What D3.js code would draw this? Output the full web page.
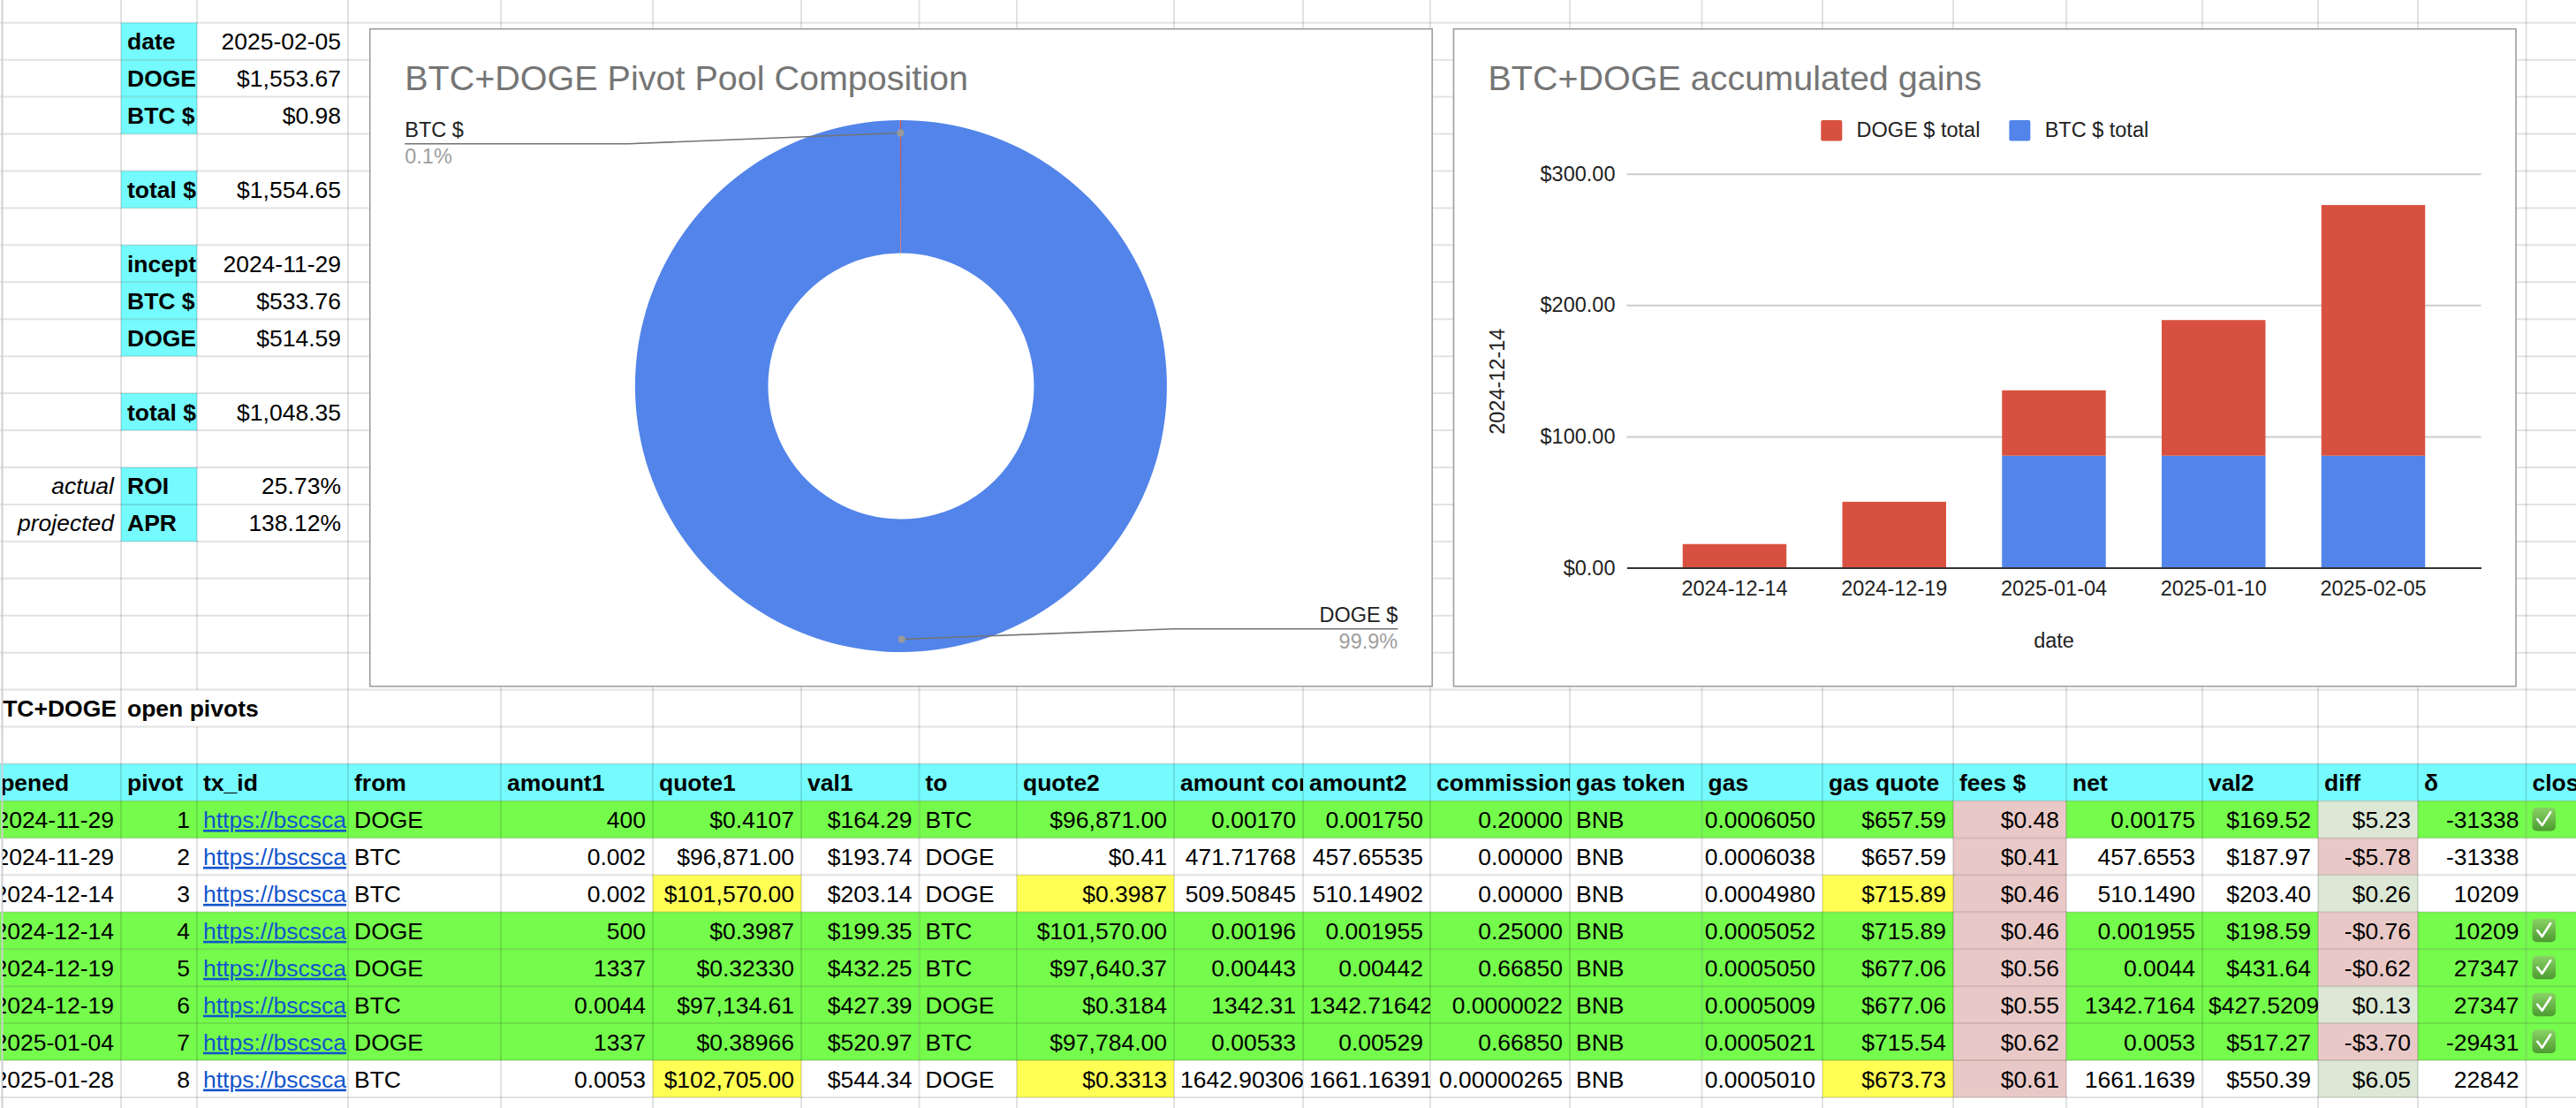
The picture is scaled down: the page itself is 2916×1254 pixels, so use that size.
<!DOCTYPE html>
<html><head><meta charset="utf-8">
<script src="https://cdn.jsdelivr.net/npm/d3@7"></script>
<style>html,body{margin:0;padding:0;background:#fff;overflow:hidden}</style>
</head><body><svg id="c" width="2916" height="1254" xmlns="http://www.w3.org/2000/svg"></svg>
<script>
// ---------------- DATA ----------------
const summaryNotes  = ["","","","","","","","","","","","","actual","projected"];
const summaryLabels = ["date","DOGE","BTC $","","total $","","incept","BTC $","DOGE","","total $","","ROI","APR"];
const summaryValues = ["2025-02-05","$1,553.67","$0.98","","$1,554.65","","2024-11-29","$533.76","$514.59","","$1,048.35","","25.73%","138.12%"];

const poolTitle  = "BTC+DOGE Pivot Pool Composition";
const poolLabels = ["DOGE $","BTC $"];
const poolValues = [1553.67, 0.98];

const gainsTitle  = "BTC+DOGE accumulated gains";
const gainDates   = ["2024-12-14","2024-12-19","2025-01-04","2025-01-10","2025-02-05"];
const dogeTotals  = [18.0, 50.2, 49.8, 103.3, 190.9];
const btcTotals   = [0, 0, 85.3, 85.3, 85.3];
const gainTicks   = [0, 100, 200, 300];
const seriesNames = ["DOGE $ total", "BTC $ total"];
const gainsYTitle = "2024-12-14";
const gainsXTitle = "date";

const tableTitle = ["BTC+DOGE", "open pivots"];
const headers = ["opened","pivot","tx_id","from","amount1","quote1","val1","to","quote2","amount converted","amount2","commission","gas token","gas","gas quote","fees $","net","val2","diff","δ","closed"];
const openedDates = ["2024-11-29","2024-11-29","2024-12-14","2024-12-14","2024-12-19","2024-12-19","2025-01-04","2025-01-28"];
const pivots      = ["1","2","3","4","5","6","7","8"];
const txIds       = Array(8).fill("https://bscsca");
const fromTokens  = ["DOGE","BTC","BTC","DOGE","DOGE","BTC","DOGE","BTC"];
const amount1     = ["400","0.002","0.002","500","1337","0.0044","1337","0.0053"];
const quote1      = ["$0.4107","$96,871.00","$101,570.00","$0.3987","$0.32330","$97,134.61","$0.38966","$102,705.00"];
const val1        = ["$164.29","$193.74","$203.14","$199.35","$432.25","$427.39","$520.97","$544.34"];
const toTokens    = ["BTC","DOGE","DOGE","BTC","BTC","DOGE","BTC","DOGE"];
const quote2      = ["$96,871.00","$0.41","$0.3987","$101,570.00","$97,640.37","$0.3184","$97,784.00","$0.3313"];
const amountConv  = ["0.00170","471.71768","509.50845","0.00196","0.00443","1342.31","0.00533","1642.90306"];
const amount2     = ["0.001750","457.65535","510.14902","0.001955","0.00442","1342.71642","0.00529","1661.16391"];
const commission  = ["0.20000","0.00000","0.00000","0.25000","0.66850","0.0000022","0.66850","0.00000265"];
const gasToken    = Array(8).fill("BNB");
const gasAmounts  = ["0.0006050","0.0006038","0.0004980","0.0005052","0.0005050","0.0005009","0.0005021","0.0005010"];
const gasQuote    = ["$657.59","$657.59","$715.89","$715.89","$677.06","$677.06","$715.54","$673.73"];
const fees        = ["$0.48","$0.41","$0.46","$0.46","$0.56","$0.55","$0.62","$0.61"];
const net         = ["0.00175","457.6553","510.1490","0.001955","0.0044","1342.7164","0.0053","1661.1639"];
const val2        = ["$169.52","$187.97","$203.40","$198.59","$431.64","$427.52094","$517.27","$550.39"];
const diffs       = ["$5.23","-$5.78","$0.26","-$0.76","-$0.62","$0.13","-$3.70","$6.05"];
const deltas      = ["-31338","-31338","10209","10209","27347","27347","-29431","22842"];
const closed      = [true,false,false,true,true,true,true,false];
const refreshedQuotes = [false,false,true,false,false,false,false,true];

// ---------------- LAYOUT / STYLE ----------------
const W = 2916, H = 1254;
const FONT = "'Liberation Sans', Arial, Helvetica, sans-serif";
const CELL_FS = 26.5;
const rowH = 41.94, row0 = 25.7;
const rowTop = k => row0 + rowH * k;
const colEdges = [-23,137,223,394,567,739,907,1040.5,1151,1329,1475,1619,1777,1926.5,2063,2211,2339,2493,2624,2737,2859.5,3060];
const CYAN = "#75fbfd", GREEN = "#75fb4c", YELLOW = "#fffe54", PINK = "#e9c9c7", LGREEN = "#dce8d5";
const GRID = "rgba(0,0,0,0.115)";
const BLUE = "#5284ea", RED = "#d85140";

const svg = d3.select("#c");
const defs = svg.append("defs");
defs.append("clipPath").attr("id","leftclip").append("rect").attr("x",3).attr("y",0).attr("width",W).attr("height",H);
const grad = defs.append("linearGradient").attr("id","chk").attr("x1",0).attr("y1",0).attr("x2",0).attr("y2",1);
grad.append("stop").attr("offset","0%").attr("stop-color","#8ad266");
grad.append("stop").attr("offset","100%").attr("stop-color","#4c9b30");

svg.append("rect").attr("width",W).attr("height",H).attr("fill","#fff");
const fillG = svg.append("g");
const gridG = svg.append("g");
const textG = svg.append("g").attr("clip-path","url(#leftclip)");

function fillCell(c0, c1, k, color) {
  if (!color) return;
  fillG.append("rect").attr("x", colEdges[c0]).attr("y", rowTop(k))
    .attr("width", colEdges[c1] - colEdges[c0]).attr("height", rowH).attr("fill", color);
}
function putText(c0, c1, k, str, o = {}) {
  if (str === "" || str == null) return;
  const x0 = colEdges[c0], x1 = colEdges[c1], w = x1 - x0;
  const cell = textG.append("svg").attr("x", x0).attr("y", rowTop(k))
    .attr("width", w).attr("height", rowH).attr("overflow", "hidden");
  const t = cell.append("text").attr("y", 30.5)
    .attr("font-family", FONT).attr("font-size", CELL_FS)
    .attr("font-weight", o.bold ? "bold" : "normal")
    .attr("font-style", o.italic ? "italic" : "normal")
    .attr("fill", o.color || "#000")
    .text(str);
  if (o.underline) t.attr("text-decoration", "underline");
  if (o.align === "right") {
    const tw = t.node().getComputedTextLength();
    if (tw + 10 > w) t.attr("x", 7);
    else t.attr("x", w - 8).attr("text-anchor", "end");
  } else {
    t.attr("x", 7);
  }
}

// ---- summary block ----
summaryLabels.forEach((lab, k) => {
  if (lab) fillCell(1, 2, k, CYAN);
});
summaryNotes.forEach((s, k) => putText(0, 1, k, s, {align: "right", italic: true}));
summaryLabels.forEach((s, k) => putText(1, 2, k, s, {bold: true}));
summaryValues.forEach((s, k) => putText(2, 3, k, s, {align: "right"}));

// ---- table ----
const TITLE_ROW = 18, HEAD_ROW = 20, DATA_ROW = 21;
putText(0, 1, TITLE_ROW, tableTitle[0], {bold: true});
putText(1, 3, TITLE_ROW, tableTitle[1], {bold: true});

fillG.append("rect").attr("x", 0).attr("y", rowTop(HEAD_ROW)).attr("width", W).attr("height", rowH).attr("fill", CYAN);
headers.forEach((h, c) => putText(c, c + 1, HEAD_ROW, h, {bold: true}));

const columns = [
  {v: openedDates, a: "right"}, {v: pivots, a: "right"}, {v: txIds, a: "link"},
  {v: fromTokens, a: "left"}, {v: amount1, a: "right"}, {v: quote1, a: "right", q: true},
  {v: val1, a: "right"}, {v: toTokens, a: "left"}, {v: quote2, a: "right", q: true},
  {v: amountConv, a: "right"}, {v: amount2, a: "right"}, {v: commission, a: "right"},
  {v: gasToken, a: "left"}, {v: gasAmounts, a: "right"}, {v: gasQuote, a: "right", q: true},
  {v: fees, a: "right", fee: true}, {v: net, a: "right"}, {v: val2, a: "right"},
  {v: diffs, a: "right", diff: true}, {v: deltas, a: "right"}, {v: closed, a: "check"}
];

closed.forEach((isClosed, i) => {
  const k = DATA_ROW + i;
  columns.forEach((col, c) => {
    let color = isClosed ? GREEN : null;
    if (col.q && refreshedQuotes[i]) color = YELLOW;
    if (col.fee) color = PINK;
    if (col.diff) color = col.v[i].startsWith("-") ? PINK : LGREEN;
    fillCell(c, c + 1, k, color);
    if (col.a === "check") {
      if (col.v[i]) {
        const s = CELL_FS, gx = colEdges[c] + 7, gy = rowTop(k) + 7.5;
        const g = textG.append("g").attr("transform", `translate(${gx},${gy})`);
        g.append("rect").attr("width", s).attr("height", s).attr("rx", 5).attr("fill", "url(#chk)");
        g.append("path").attr("d", `M${s*0.22},${s*0.5} L${s*0.42},${s*0.76} L${s*0.78},${s*0.2}`)
          .attr("fill", "none").attr("stroke", "#fff").attr("stroke-width", 2.6)
          .attr("stroke-linecap", "round").attr("stroke-linejoin", "round");
      }
    } else if (col.a === "link") {
      putText(c, c + 1, k, col.v[i], {color: "#1155cc", underline: true});
    } else {
      putText(c, c + 1, k, col.v[i], {align: col.a});
    }
  });
});

// ---- grid lines ----
for (let k = -1; k <= 30; k++) {
  gridG.append("line").attr("x1", 0).attr("x2", W).attr("y1", rowTop(k)).attr("y2", rowTop(k))
    .attr("stroke", GRID).attr("stroke-width", 2);
}
colEdges.slice(1, -1).forEach((x, ci) => {
  for (let k = -1; k <= 29; k++) {
    if (k === TITLE_ROW && ci + 1 === 2) continue; // overflowing title text hides this border
    gridG.append("line").attr("x1", x).attr("x2", x).attr("y1", rowTop(k)).attr("y2", rowTop(k + 1))
      .attr("stroke", GRID).attr("stroke-width", 2);
  }
});
gridG.append("line").attr("x1", 2.5).attr("x2", 2.5).attr("y1", 0).attr("y2", H)
  .attr("stroke", "#cfcfcf").attr("stroke-width", 2);

// ---------------- CHART BOXES ----------------
const box1 = {x0: 418.75, y0: 32.75, x1: 1621.25, y1: 776.75};
const box2 = {x0: 1645.5, y0: 32.75, x1: 2848, y1: 776.75};
[box1, box2].forEach(b => {
  svg.append("rect").attr("x", b.x0).attr("y", b.y0).attr("width", b.x1 - b.x0).attr("height", b.y1 - b.y0)
    .attr("fill", "#fff").attr("stroke", "#9e9e9e").attr("stroke-width", 1.6);
});

// ---------------- DONUT ----------------
{
  const g = svg.append("g");
  g.append("text").attr("x", box1.x0 + 39.5).attr("y", 102.3)
    .attr("font-family", FONT).attr("font-size", 39.5).attr("fill", "#757575").text(poolTitle);
  const cx = (box1.x0 + box1.x1) / 2, cy = 437, rO = 301, rI = 150.5, rDot = 286.5;
  const pie = d3.pie().sort(null).value(d => d)(poolValues);
  const arc = d3.arc().innerRadius(rI).outerRadius(rO);
  const colors = [BLUE, RED];
  const pg = g.append("g").attr("transform", `translate(${cx},${cy})`);
  pg.selectAll("path").data(pie).join("path").attr("d", arc).attr("fill", (d, i) => colors[i]);
  const total = d3.sum(poolValues);
  const dotArc = d3.arc().innerRadius(rDot).outerRadius(rDot);
  pie.forEach((d, i) => {
    const [dx, dy] = dotArc.centroid(d);
    const px = cx + dx, py = cy + dy;
    const mid = (d.startAngle + d.endAngle) / 2;
    const left = Math.sin(mid) < 0;
    let lineY, labelX, elbowX, anchor;
    if (left) { lineY = py + 12.2; labelX = box1.x0 + 39.5; elbowX = labelX + 253; anchor = "start"; }
    else { lineY = py - 11.8; labelX = box1.x1 - 39; elbowX = labelX - 254; anchor = "end"; }
    g.append("path").attr("d", `M${px},${py} L${elbowX},${lineY} L${labelX},${lineY}`)
      .attr("fill", "none").attr("stroke", "#737373").attr("stroke-width", 1.6);
    g.append("circle").attr("cx", px).attr("cy", py).attr("r", 4).attr("fill", "#9a9a9a");
    g.append("text").attr("x", labelX).attr("y", lineY - 7.8).attr("text-anchor", anchor)
      .attr("font-family", FONT).attr("font-size", 23.5).attr("fill", "#222").text(poolLabels[i]);
    g.append("text").attr("x", labelX).attr("y", lineY + 22.3).attr("text-anchor", anchor)
      .attr("font-family", FONT).attr("font-size", 23.5).attr("fill", "#9e9e9e")
      .text(d3.format(".1%")(d.value / total));
  });
}

// ---------------- STACKED BARS ----------------
{
  const g = svg.append("g");
  g.append("text").attr("x", box2.x0 + 39).attr("y", 102.3)
    .attr("font-family", FONT).attr("font-size", 39.5).attr("fill", "#757575").text(gainsTitle);

  const bx0 = 1841.5, bx1 = 2808.5, by0 = 642.5, byTop = 196.7;
  const x = d3.scaleBand().domain(gainDates).range([bx0, bx1]).paddingInner(0.35).paddingOuter(0.35);
  const y = d3.scaleLinear().domain([0, 300]).range([by0, byTop]);

  const yAxis = g.append("g").attr("transform", `translate(${bx0},0)`)
    .call(d3.axisLeft(y).tickValues(gainTicks).tickSize(-(bx1 - bx0)).tickPadding(13)
      .tickFormat(d => "$" + d3.format(",.2f")(d)));
  yAxis.select(".domain").remove();
  yAxis.selectAll(".tick line").attr("stroke", "#cccccc").attr("stroke-width", 2);
  yAxis.selectAll(".tick text").attr("font-family", FONT).attr("font-size", 23.5).attr("fill", "#222");

  const rows = gainDates.map((d, i) => ({date: d, btc: btcTotals[i], doge: dogeTotals[i]}));
  const stack = d3.stack().keys(["btc", "doge"])(rows);
  const layerColors = {btc: BLUE, doge: RED};
  stack.forEach(layer => {
    g.append("g").selectAll("rect").data(layer.filter(d => d[1] - d[0] > 0)).join("rect")
      .attr("x", d => x(d.data.date)).attr("width", x.bandwidth())
      .attr("y", d => y(d[1])).attr("height", d => y(d[0]) - y(d[1]))
      .attr("fill", layerColors[layer.key]);
  });

  const xAxis = g.append("g").attr("transform", `translate(0,${by0})`)
    .call(d3.axisBottom(x).tickSize(0).tickPadding(15));
  xAxis.select(".domain").attr("stroke", "#333").attr("stroke-width", 2);
  xAxis.selectAll(".tick text").attr("font-family", FONT).attr("font-size", 23.5).attr("fill", "#222");

  g.append("text").attr("x", (bx0 + bx1) / 2).attr("y", 733).attr("text-anchor", "middle")
    .attr("font-family", FONT).attr("font-size", 23.5).attr("fill", "#222").text(gainsXTitle);
  g.append("text").attr("transform", `translate(1703,431.7) rotate(-90)`).attr("text-anchor", "middle")
    .attr("font-family", FONT).attr("font-size", 23.5).attr("fill", "#222").text(gainsYTitle);

  const lg = g.append("g");
  const legendColors = [RED, BLUE];
  let cur = 0;
  seriesNames.forEach((name, i) => {
    const it = lg.append("g").attr("transform", `translate(${cur},0)`);
    it.append("rect").attr("x", 0).attr("y", 136).attr("width", 24).attr("height", 23.5).attr("rx", 2)
      .attr("fill", legendColors[i]);
    const t = it.append("text").attr("x", 40.3).attr("y", 155)
      .attr("font-family", FONT).attr("font-size", 23.5).attr("fill", "#222").text(name);
    cur += 40.3 + t.node().getComputedTextLength() + 33;
  });
  const legendW = cur - 33;
  lg.attr("transform", `translate(${(box2.x0 + box2.x1) / 2 - legendW / 2},0)`);
}
</script></body></html>
